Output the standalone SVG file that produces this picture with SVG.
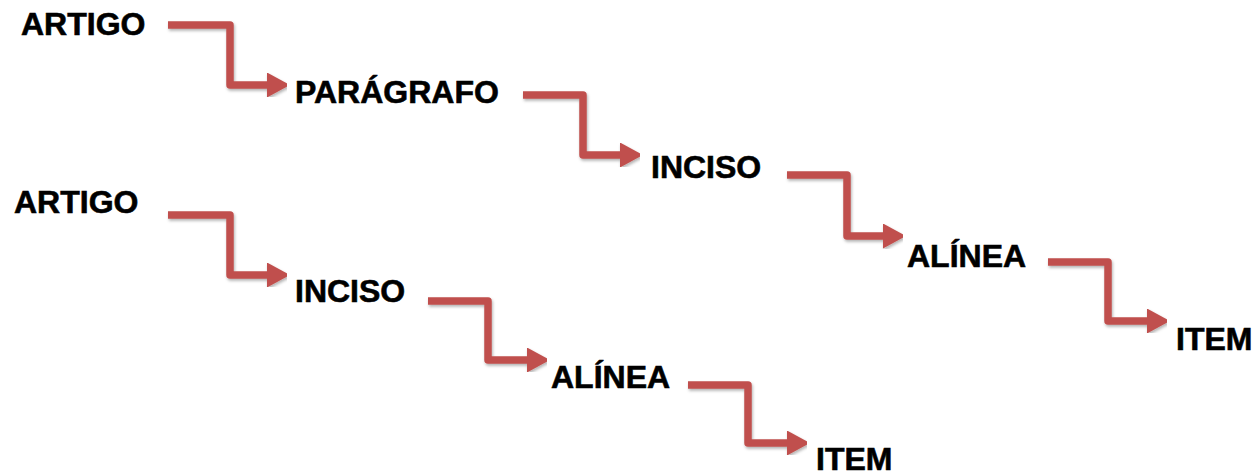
<svg xmlns="http://www.w3.org/2000/svg" width="1258" height="474" viewBox="0 0 1258 474">
  <defs>
    <style>
      .lbl { font-family: "Liberation Sans", Arial, sans-serif; font-weight: bold; font-size: 32px; fill: #000; stroke: #000; stroke-width: 0.6; }
      .conn { fill: none; stroke: #C0504D; stroke-width: 7.5; stroke-linejoin: round; marker-end: url(#arrow); filter: url(#shadow); }
    </style>
    <marker id="arrow" markerUnits="userSpaceOnUse" markerWidth="24" markerHeight="26" refX="0" refY="12.5" orient="auto" viewBox="0 0 24 26">
      <path d="M0,0 L23,12.5 L0,25 Z" fill="#C0504D"/>
    </marker>
    <filter id="shadow" x="-20%" y="-20%" width="140%" height="140%">
      <feDropShadow dx="1" dy="2" stdDeviation="1.5" flood-color="#000" flood-opacity="0.3"/>
    </filter>
  </defs>

  <g id="connectors">
    <path class="conn" d="M168,25 H230 V85 H267"/>
    <path class="conn" d="M523,95 H583 V155 H620"/>
    <path class="conn" d="M787,175 H847 V236 H883"/>
    <path class="conn" d="M1048,262 H1108 V321 H1147"/>
    <path class="conn" d="M168,215 H230 V275 H267"/>
    <path class="conn" d="M428,301 H488 V360 H527"/>
    <path class="conn" d="M688,385 H748 V443 H787"/>
  </g>

  <g id="node-artigo-1"><text class="lbl" x="21" y="35">ARTIGO</text></g>
  <g id="node-paragrafo-1"><text class="lbl" x="295" y="103">PARÁGRAFO</text></g>
  <g id="node-inciso-1"><text class="lbl" x="651" y="178">INCISO</text></g>
  <g id="node-alinea-1"><text class="lbl" x="907" y="267">ALÍNEA</text></g>
  <g id="node-item-1"><text class="lbl" x="1176" y="350">ITEM</text></g>

  <g id="node-artigo-2"><text class="lbl" x="14" y="213">ARTIGO</text></g>
  <g id="node-inciso-2"><text class="lbl" x="295" y="302">INCISO</text></g>
  <g id="node-alinea-2"><text class="lbl" x="551" y="388">ALÍNEA</text></g>
  <g id="node-item-2"><text class="lbl" x="816" y="470">ITEM</text></g>
</svg>
